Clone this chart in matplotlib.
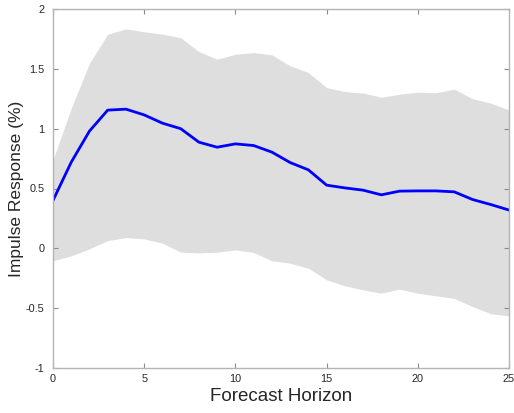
import numpy as np
from matplotlib import pyplot as plt

# %% Data ---------------------------------------------------------------------------------------------------------------
horizon = np.arange(26)
irf = [0.40, 0.72, 0.98, 1.155, 1.163, 1.115, 1.046, 1.00, 0.887, 0.845, 0.873, 0.859, 0.804,
       0.717, 0.656, 0.528, 0.505, 0.486, 0.447, 0.478, 0.48, 0.48, 0.472, 0.408, 0.366, 0.32]
upper = [0.74, 1.17, 1.547, 1.79, 1.834, 1.81, 1.79, 1.76, 1.644, 1.58, 1.622, 1.636, 1.617,
         1.525, 1.469, 1.343, 1.31, 1.297, 1.263, 1.288, 1.305, 1.30, 1.33, 1.251, 1.213, 1.157]
lower = [-0.104, -0.063, -0.004, 0.065, 0.09, 0.079, 0.043, -0.032, -0.038, -0.032, -0.013, -0.035, -0.104,
         -0.124, -0.166, -0.263, -0.313, -0.347, -0.375, -0.341, -0.375, -0.397, -0.419, -0.486, -0.547, -0.564]

# %% Plot ---------------------------------------------------------------------------------------------------------------
plt.rcParams['font.family'] = ['Liberation Sans', 'DejaVu Sans']

fig = plt.figure(figsize=(5.14, 4.13), dpi=100)
ax = fig.add_axes([53 / 514, 45 / 413, 456 / 514, 359 / 413])

ax.fill_between(horizon, lower, upper, color="#dedede", linewidth=0)
ax.plot(horizon, irf, color="#0000ff", linewidth=2)

ax.set_xlim(0, 25)
ax.set_ylim(-1, 2)
ax.set_xticks([0, 5, 10, 15, 20, 25])
ax.set_yticks([-1, -0.5, 0, 0.5, 1, 1.5, 2])
ax.set_yticklabels(["-1", "-0.5", "0", "0.5", "1", "1.5", "2"])

for s in ax.spines.values():
    s.set_color("#b4b4b4")
    s.set_linewidth(1.0)
ax.tick_params(direction="in", length=3.5, width=0.8, color="#8c8c8c", labelsize=7.8,
               labelcolor="#262626", top=True, right=True)
ax.tick_params(axis="x", pad=4.5)
ax.tick_params(axis="y", pad=6)

ax.set_xlabel("Forecast Horizon", fontsize=13.5, color="#262626", labelpad=3)
ax.set_ylabel("Impulse Response (%)", fontsize=12.5, color="#262626", labelpad=1.5)

plt.savefig("out.png", dpi=100)
